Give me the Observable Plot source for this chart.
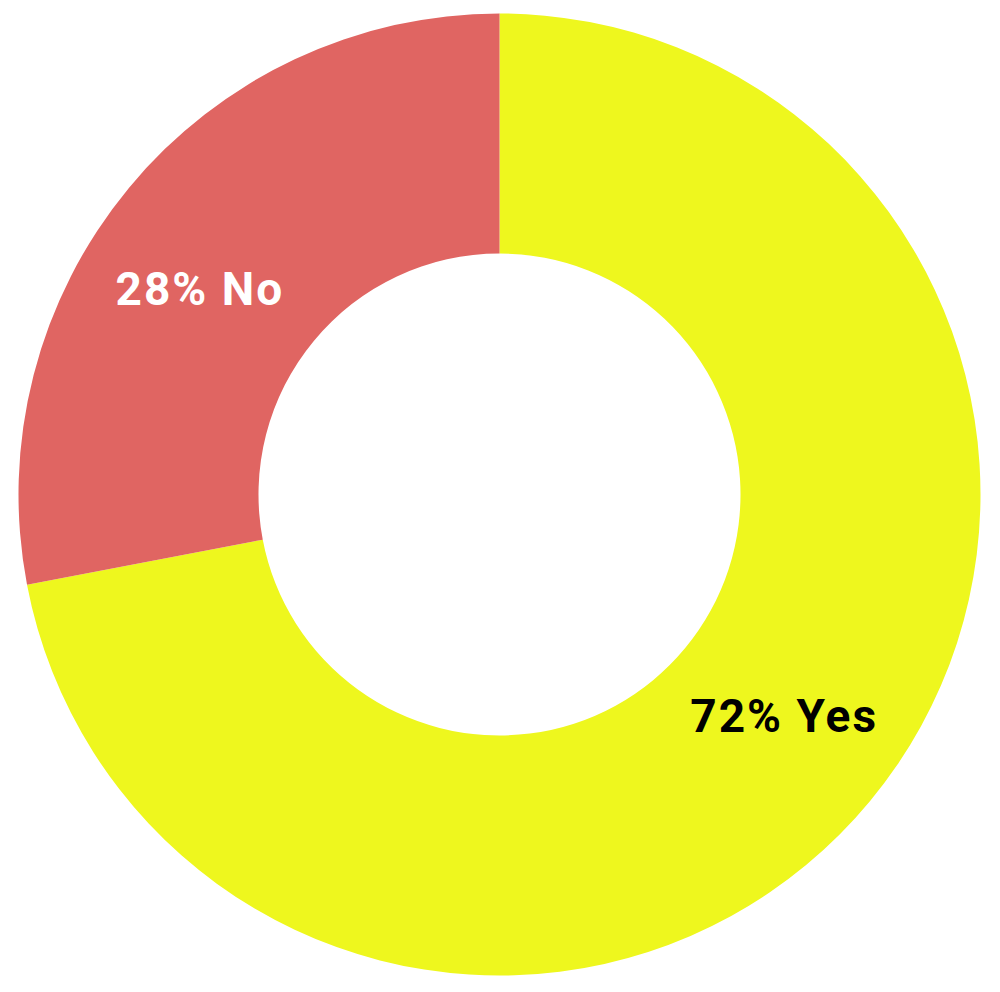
<!DOCTYPE html>
<html>
<head>
<meta charset="utf-8">
<script src="https://cdn.jsdelivr.net/npm/d3@7"></script>
<script src="https://cdn.jsdelivr.net/npm/@observablehq/plot@0.6"></script>
<style>
  html, body { margin: 0; padding: 0; background: #ffffff; }
  #chart svg { display: block; }
</style>
</head>
<body>
<div id="chart"></div>
<script>
// Data
const categories = ["Yes", "No"];
const values = [72, 28];
const labelTexts = ["72% Yes", "28% No"];
const sliceColors = ["#eef71e", "#e06562"];
const labelColors = ["#000000", "#ffffff"];

const W = 1000, H = 992;
const outerR = 481, innerR = 241;

const table = categories.map((c, i) => ({category: c, value: values[i], label: labelTexts[i], labelColor: labelColors[i]}));
const arcs = d3.pie().sort(null).value(d => d.value)(table);
// label positions in data units (y up), at arc centroid
const labelR = (outerR + innerR) / 2;
arcs.forEach(a => {
  const m = (a.startAngle + a.endAngle) / 2;
  a.data.lx = Math.sin(m) * labelR;
  a.data.ly = Math.cos(m) * labelR;
  a.data.start = a.startAngle;
  a.data.end = a.endAngle;
});

const ringMark = (index, scales, values, dimensions, context) => {
  const cx = scales.x(0), cy = scales.y(0);
  const k = scales.x(1) - scales.x(0);
  const g = d3.create("svg:g").attr("transform", `translate(${cx},${cy})`);
  const arcGen = d3.arc().innerRadius(innerR * k).outerRadius(outerR * k);
  g.selectAll("path").data(table).join("path")
    .attr("d", d => arcGen({startAngle: d.start, endAngle: d.end}))
    .attr("fill", d => scales.color(d.category));
  return g.node();
};

const textStyle = {
  text: "label",
  fill: "labelColor",
  fontSize: 46,
  fontWeight: "bold",
  fontFamily: "Roboto, 'Liberation Sans', Arial, sans-serif",
  textAnchor: "middle",
  lineAnchor: "middle"
};

const chart = Plot.plot({
  width: W,
  height: H,
  margin: 0,
  x: {domain: [-499.5, 500.5], axis: null},
  y: {domain: [-497.5, 494.5], axis: null},
  color: {domain: categories, range: sliceColors},
  style: {background: "#ffffff"},
  marks: [
    ringMark,
    Plot.text(table.filter(d => d.category === "Yes"), {x: "lx", y: "ly", ...textStyle, dx: 6, dy: -8}),
    Plot.text(table.filter(d => d.category === "No"), {x: "lx", y: "ly", ...textStyle, dx: -22, dy: 25})
  ]
});
chart.querySelectorAll("text").forEach(t => t.style.letterSpacing = "2px");
document.getElementById("chart").append(chart);
</script>
</body>
</html>
